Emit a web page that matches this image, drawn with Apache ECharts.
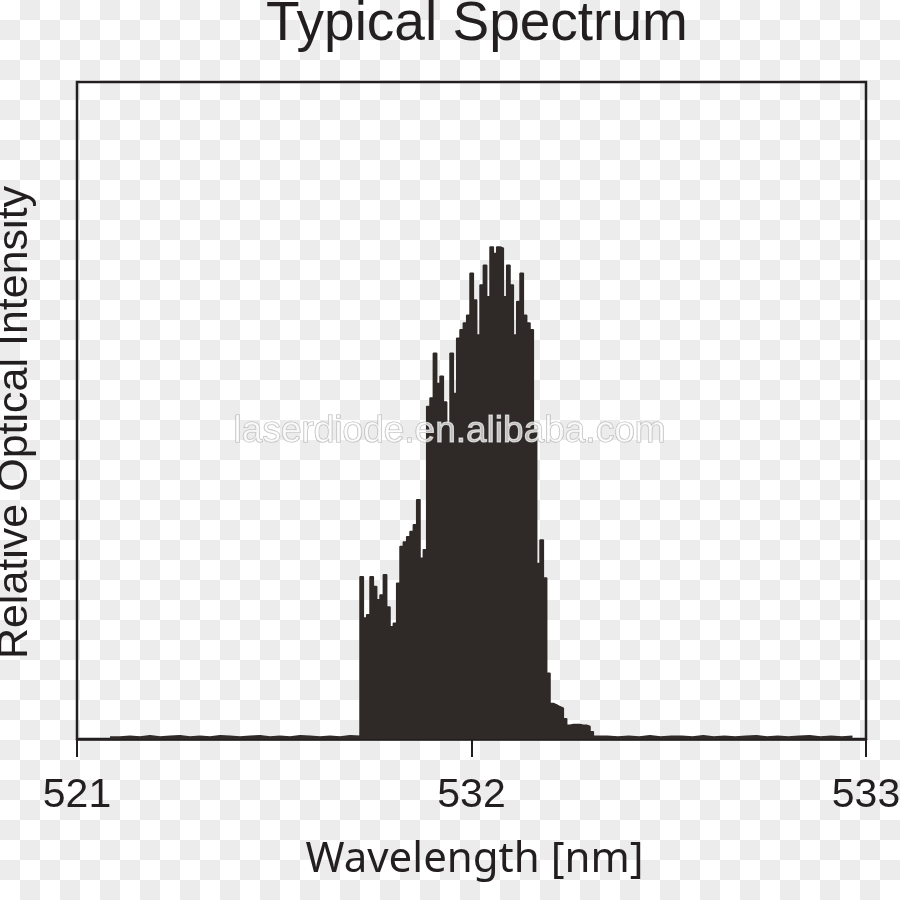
<!DOCTYPE html>
<html>
<head>
<meta charset="utf-8">
<script src="https://cdn.jsdelivr.net/npm/echarts@6/dist/echarts.min.js"></script>
<style>
    html, body { margin: 0; padding: 0; }
    /* 透明背景的棋盘格 */
    body { background: repeating-conic-gradient(#ececec 0 25%, #ffffff 0 50%) 0 0 / 40px 40px; }
    #spectrum { width: 900px; height: 900px; }
</style>
</head>
<body>
<div id="spectrum"></div>
<script>
// 坐标轴刻度标签 (位置 0, 1, 2)
const tickLabels = ['521', '532', '533']

// 峰值区域: 每个通道的相对强度
const peakStart = 0.7174
const peakStep = 0.00845
const peakIntensity = [
    24.7, 18.4, 18.9, 24.7, 23.2, 21.2, 21.9, 25.0, 20.1, 17.1,
    17.6, 23.7, 29.3, 30.0, 30.8, 31.6, 32.6, 36.4, 27.5, 28.8,
    50.6, 51.9, 58.7, 54.1, 55.2, 51.3, 48.0, 58.7, 52.6, 61.0,
    62.3, 63.3, 64.5, 70.9, 66.8, 61.5, 69.1, 72.1, 67.3, 74.9,
    73.9, 74.9, 74.7, 67.3, 72.1, 69.1, 61.5, 66.6, 70.9, 64.5,
    63.3, 62.3, 47.0, 26.7, 30.3, 24.5, 10.0, 5.4, 5.2, 4.9,
    4.7, 3.1, 2.1, 2.2, 2.2, 2.2, 2.1, 2.1, 1.9, 1.1, 0.4
]

// 两侧的底噪
const leftNoiseStart = 0.0837
const leftNoiseStep = 0.02535
const leftNoise = [0.3, 0.4, 0.3, 0.5, 0.3, 0.4, 0.5, 0.3, 0.4, 0.3, 0.5, 0.4, 0.3,
    0.4, 0.5, 0.3, 0.4, 0.3, 0.5, 0.4, 0.3, 0.4, 0.3, 0.5, 0.4]
const rightNoiseStart = 1.3174
const rightNoiseStep = 0.027
const rightNoise = [0.4, 0.3, 0.4, 0.3, 0.5, 0.3, 0.4, 0.4, 0.3, 0.5, 0.3, 0.4, 0.3,
    0.4, 0.5, 0.3, 0.4, 0.3, 0.4, 0.5, 0.3, 0.4, 0.3, 0.4, 0.3]

function buildSeriesData() {
    const data = []
    leftNoise.forEach((v, i) => data.push([leftNoiseStart + i * leftNoiseStep, v]))
    peakIntensity.forEach((v, i) => data.push([peakStart + i * peakStep, v]))
    rightNoise.forEach((v, i) => data.push([rightNoiseStart + i * rightNoiseStep, v]))
    return data
}

const ink = '#231f20'
const fill = '#2f2927'

var myChart = echarts.init(document.getElementById('spectrum'))
var option = {
    animation: false,
    title: {
        text: 'Typical Spectrum',
        left: 261,
        top: -8,
        textStyle: { fontFamily: 'Liberation Sans', fontSize: 55, fontWeight: 'normal', color: ink }
    },
    grid: {
        left: 77, right: 34, top: 82, bottom: 161,
        outerBoundsMode: 'none',
        containLabel: false,
        show: true,
        borderColor: ink,
        borderWidth: 2.5
    },
    graphic: [{
        type: 'text',
        left: 233,
        top: 413,
        z: 100,
        style: {
            text: 'laserdiode.en.alibaba.com',
            fontFamily: 'Liberation Sans',
            fontSize: 37,
            fill: 'rgba(255,255,255,0.7)',
            stroke: '#b8b8b8',
            lineWidth: 1.2
        }
    }],
    xAxis: {
        type: 'value',
        min: 0,
        max: 2,
        interval: 1,
        name: 'Wavelength [nm]',
        nameLocation: 'middle',
        nameGap: 100,
        nameTextStyle: { fontFamily: 'Noto Sans', fontSize: 42, color: ink, padding: [0, 0, 0, 6] },
        axisLine: { show: true, lineStyle: { color: ink, width: 2.5 } },
        axisTick: { show: true, length: 18, lineStyle: { color: ink, width: 2 } },
        axisLabel: {
            margin: 36,
            showMinLabel: true,
            showMaxLabel: true,
            fontFamily: 'Liberation Sans',
            fontSize: 41,
            color: ink,
            formatter: v => tickLabels[Math.round(v)]
        },
        splitLine: { show: false }
    },
    yAxis: {
        type: 'value',
        min: 0,
        max: 100,
        name: 'Relative Optical Intensity',
        nameLocation: 'middle',
        nameGap: 40,
        nameTextStyle: { fontFamily: 'Liberation Sans', fontSize: 43, color: ink, padding: [0, 24, 0, 0] },
        axisLine: { show: false },
        axisTick: { show: false },
        axisLabel: { show: false },
        splitLine: { show: false }
    },
    series: [{
        type: 'line',
        step: 'end',
        symbol: 'none',
        data: buildSeriesData(),
        lineStyle: { color: fill, width: 1.5 },
        areaStyle: { color: fill, opacity: 1 }
    }]
}
option && myChart.setOption(option)
</script>
</body>
</html>
